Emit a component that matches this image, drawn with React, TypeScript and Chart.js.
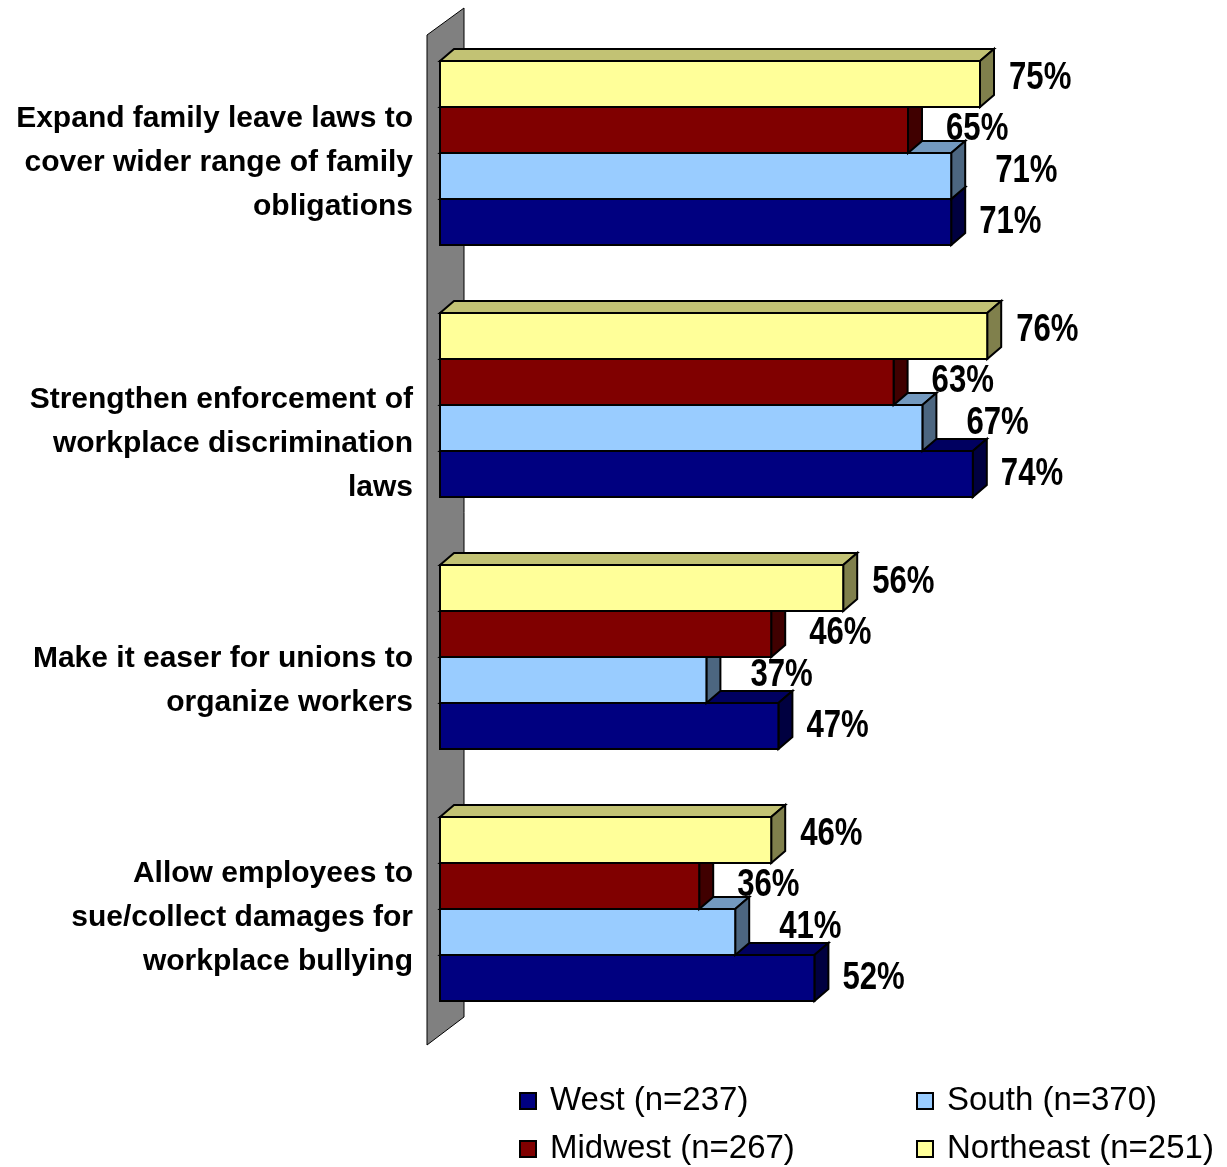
import { useEffect, useRef } from "react";
import { Chart, registerables } from "chart.js";
Chart.register(...registerables);

const categories: string[][] = [
  ["Expand family leave laws to", "cover wider range of family", "obligations"],
  ["Strengthen enforcement of", "workplace discrimination", "laws"],
  ["Make it easer for unions to", "organize workers"],
  ["Allow employees to", "sue/collect damages for", "workplace bullying"],
];
const northeast = [75, 76, 56, 46];
const midwest = [65, 63, 46, 36];
const south = [71, 67, 37, 41];
const west = [71, 74, 47, 52];
const seriesNames = ["Northeast (n=251)", "Midwest (n=267)", "South (n=370)", "West (n=237)"];
const legendOrder = [3, 2, 1, 0]; // West, South, Midwest, Northeast

const FONT = "'Liberation Sans', Arial, sans-serif";
const DX = 14;
const DY = -12;
const frontC = ["#FFFF99", "#800000", "#99CCFF", "#000080"];
const topC = ["#C2C274", "#600000", "#7399BF", "#000060"];
const sideC = ["#80804C", "#400000", "#4C6680", "#000040"];
const lblDx = [29, 38, 44, 28];
const lblDy = [-5, 0, -4, 1];
const catDy = [10, 39, 24, 9];

function poly(ctx: CanvasRenderingContext2D, pts: number[][], fill: string) {
  ctx.beginPath();
  ctx.moveTo(pts[0][0], pts[0][1]);
  for (let i = 1; i < pts.length; i++) ctx.lineTo(pts[i][0], pts[i][1]);
  ctx.closePath();
  ctx.fillStyle = fill;
  ctx.fill();
  ctx.stroke();
}

function text(ctx: CanvasRenderingContext2D, s: string, x: number, y: number, sx: number) {
  ctx.save();
  ctx.translate(x, y);
  ctx.scale(sx, 1);
  ctx.fillText(s, 0, 0);
  ctx.restore();
}

const threeD = {
  id: "threeD",
  beforeDatasetsDraw(chart: any) {
    const { ctx, chartArea: a } = chart;
    ctx.save();
    ctx.strokeStyle = "#000";
    ctx.lineWidth = 1;
    poly(ctx, [
      [a.left - 13, a.top + 8],
      [a.left + 24, a.top - 19],
      [a.left + 24, a.bottom - 18],
      [a.left - 13, a.bottom + 10],
    ], "#808080");
    ctx.restore();
  },
  afterDatasetDraw(chart: any, args: any) {
    const { ctx } = chart;
    const di = args.index;
    const meta = args.meta;
    ctx.save();
    ctx.strokeStyle = "#000";
    ctx.lineWidth = 2;
    ctx.lineJoin = "miter";
    meta.data.forEach((el: any, i: number) => {
      const x = el.x, b = el.base;
      const t = el.y - el.height / 2, bt = el.y + el.height / 2;
      poly(ctx, [[b, t], [b + DX, t + DY], [x + DX, t + DY], [x, t]], topC[di]);
      poly(ctx, [[x, t], [x + DX, t + DY], [x + DX, bt + DY], [x, bt]], sideC[di]);
      poly(ctx, [[b, t], [x, t], [x, bt], [b, bt]], frontC[di]);
      const v = chart.data.datasets[di].data[i];
      ctx.fillStyle = "#000";
      ctx.font = `bold 38px ${FONT}`;
      ctx.textAlign = "left";
      ctx.textBaseline = "middle";
      text(ctx, `${v}%`, x + lblDx[di], el.y + lblDy[di], 0.82);
    });
    ctx.restore();
  },
  afterDraw(chart: any) {
    const { ctx, chartArea: a, scales } = chart;
    ctx.save();
    ctx.fillStyle = "#000";
    ctx.font = `bold 30px ${FONT}`;
    ctx.textAlign = "right";
    ctx.textBaseline = "middle";
    categories.forEach((lines, i) => {
      const c = scales.y.getPixelForValue(i) + catDy[i];
      lines.forEach((ln, j) => {
        text(ctx, ln, a.left - 27, c + (j - (lines.length - 1) / 2) * 44, 1.0);
      });
    });
    // legend
    ctx.font = `33px ${FONT}`;
    ctx.textAlign = "left";
    ctx.lineWidth = 2;
    ctx.strokeStyle = "#000";
    legendOrder.forEach((di, k) => {
      const col = k % 2, row = Math.floor(k / 2);
      const bx = a.left + 80 + col * 397;
      const cy = a.bottom + 66 + row * 48;
      ctx.fillStyle = frontC[di];
      ctx.fillRect(bx, cy - 8, 16, 16);
      ctx.strokeRect(bx, cy - 8, 16, 16);
      ctx.fillStyle = "#000";
      text(ctx, seriesNames[di], bx + 30, cy, 1.0);
    });
    ctx.restore();
  },
};

export default function App() {
  const ref = useRef<HTMLCanvasElement>(null);
  useEffect(() => {
    const vals = [northeast, midwest, south, west];
    const chart = new Chart(ref.current!, {
      type: "bar",
      data: {
        labels: categories.map((c) => c.join(" ")),
        datasets: vals.map((d, i) => ({
          label: seriesNames[i],
          data: d,
          backgroundColor: frontC[i],
          borderWidth: 0,
          categoryPercentage: 0.73,
          barPercentage: 1,
        })),
      },
      options: {
        indexAxis: "y",
        animation: false,
        responsive: false,
        maintainAspectRatio: false,
        layout: { padding: { left: 440, right: 67, top: 27, bottom: 132 } },
        plugins: { legend: { display: false }, tooltip: { enabled: false } },
        scales: {
          x: { display: false, min: 0, max: 100 },
          y: { display: false },
        },
      },
      plugins: [threeD],
    });
    return () => chart.destroy();
  }, []);
  return (
    <div style={{ position: "absolute", left: 0, top: 0, width: 1227, height: 1167, background: "#fff" }}>
      <canvas ref={ref} width={1227} height={1167} style={{ display: "block" }} />
    </div>
  );
}
